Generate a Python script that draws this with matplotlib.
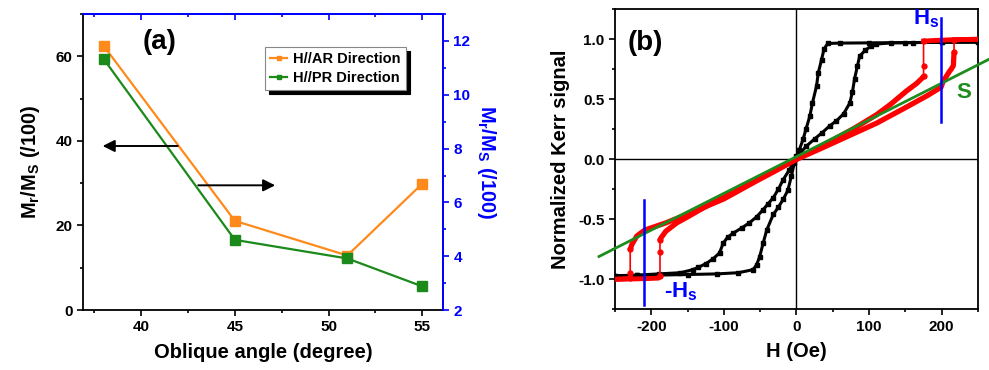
import numpy as np
import matplotlib
matplotlib.use("Agg")
import matplotlib.pyplot as plt
from matplotlib.ticker import MultipleLocator, FormatStrFormatter

plt.rcParams['font.family'] = ['Liberation Sans', 'DejaVu Sans']
plt.rcParams['font.weight'] = 'bold'
plt.rcParams['mathtext.fontset'] = 'custom'
plt.rcParams['mathtext.rm'] = 'Liberation Sans:bold'
plt.rcParams['mathtext.bf'] = 'Liberation Sans:bold'
plt.rcParams['mathtext.it'] = 'Liberation Sans:bold'
plt.rcParams['mathtext.default'] = 'bf'
plt.rcParams['axes.unicode_minus'] = False

# ---------------- data: panel (a) ----------------
angles = [38, 45, 51, 55]
ar_ratio = [62.5, 21.1, 12.9, 29.9]
pr_ratio = [59.4, 16.6, 12.2, 5.6]
ar_label = "H//AR Direction"
pr_label = "H//PR Direction"

# ---------------- data: panel (b) ----------------
# black loop, branch 1 (steep)
blk1_H = [250, 200, 150, 100, 60, 43, 38, 34.5, 30, 27.6, 22, 18.4, 13, 9, 4, 0, -3, -7, -12, -18,
          -25, -32, -41, -46, -50.6, -55, -60, -80, -110, -150, -190, -220, -250]
blk1_M = [0.975, 0.975, 0.972, 0.97, 0.968, 0.965, 0.92, 0.83, 0.72, 0.61, 0.47, 0.36, 0.25, 0.165, 0.08, 0.03,
          -0.03, -0.14, -0.26, -0.33, -0.40, -0.46, -0.59, -0.70, -0.81, -0.88, -0.92, -0.945, -0.955, -0.96,
          -0.965, -0.968, -0.97]
# black loop, branch 2 (with shoulders)
blk2_H = [-250, -220, -190, -160, -143, -135, -125, -115, -106, -101, -95, -87, -75, -65, -55, -46, -39,
          -32, -25, -18.4, -10, -2, 5, 13.6, 25, 35, 46, 55, 65, 73.5, 77, 80, 84, 87, 95, 102, 110, 130,
          160, 200, 250]
blk2_M = [-0.97, -0.965, -0.955, -0.945, -0.92, -0.90, -0.87, -0.83, -0.78, -0.70, -0.65, -0.615, -0.57,
          -0.53, -0.48, -0.42, -0.37, -0.32, -0.25, -0.17, -0.09, 0.0, 0.05, 0.11, 0.17, 0.22, 0.28, 0.32,
          0.38, 0.47, 0.56, 0.67, 0.78, 0.86, 0.91, 0.94, 0.96, 0.97, 0.972, 0.975, 0.978]
# red loop, branch A
redA_H = [250, 230, 210, 190, 176, 175, 175, 175, 172, 165, 151.7, 130, 110, 80, 50, 20, 0, -20, -55, -90,
          -124, -150, -165, -180, -186, -188, -188, -188, -190, -210, -250]
redA_M = [1.0, 0.998, 0.995, 0.99, 0.985, 0.985, 0.78, 0.69, 0.67, 0.63, 0.57, 0.46, 0.37, 0.26, 0.16, 0.06,
          0.0, -0.06, -0.17, -0.28, -0.39, -0.48, -0.53, -0.60, -0.65, -0.67, -0.77, -0.97, -0.99, -0.995, -1.0]
# red loop, branch B
redB_H = [250, 230, 218, 217, 217, 216, 213, 211, 202, 199, 180, 150, 110, 70, 30, 0, -30, -55, -100, -147,
          -180, -209, -220, -226.7, -229, -229, -229, -235, -250]
redB_M = [1.0, 0.998, 0.995, 0.995, 0.89, 0.78, 0.75, 0.735, 0.65, 0.60, 0.53, 0.43, 0.30, 0.19, 0.08, 0.0,
          -0.10, -0.18, -0.33, -0.45, -0.53, -0.59, -0.64, -0.71, -0.75, -0.95, -0.99, -0.995, -1.0]
# linear fit "S"
s_H = [-272, 265]
s_M = [-0.81, 0.833]
# saturation field markers
hs_pos = 199
hs_neg = -210.5

fig = plt.figure(figsize=(9.89, 3.70), dpi=100)

# ================= panel (a) =================
ax = fig.add_axes([0.0839, 0.162, 0.364, 0.800])
orange = '#FF8A1C'
green = '#1B8A1B'
ax.plot(angles, ar_ratio, '-s', color=orange, lw=1.6, ms=7, label=ar_label, zorder=3)
ax.plot(angles, pr_ratio, '-s', color=green, lw=1.6, ms=7, label=pr_label, zorder=3)
ax.set_xlim(36.9, 56.1)
ax.set_ylim(0, 70)
ax.xaxis.set_major_locator(MultipleLocator(5))
ax.xaxis.set_minor_locator(MultipleLocator(2.5))
ax.yaxis.set_major_locator(MultipleLocator(20))
ax.yaxis.set_minor_locator(MultipleLocator(10))
ax.tick_params(which='both', direction='out', labelsize=11, width=1.2)
ax.tick_params(which='major', length=4)
ax.tick_params(which='minor', length=2.5)
for lab in ax.get_xticklabels() + ax.get_yticklabels():
    lab.set_fontweight('bold')
ax.spines['top'].set_color('blue')
ax.spines['right'].set_color('blue')
for s in ax.spines.values():
    s.set_linewidth(1.3)
ax.set_xlabel('Oblique angle (degree)', fontsize=14.5, fontweight='bold', labelpad=6)
ax.set_ylabel('M$_r$/M$_S$ (/100)', fontsize=14.5, fontweight='bold', labelpad=10)

sec = ax.secondary_xaxis('top')
sec.xaxis.set_major_locator(MultipleLocator(5))
sec.xaxis.set_minor_locator(MultipleLocator(2.5))
sec.tick_params(which='both', direction='in', labeltop=False, color='blue', width=1.2)
sec.tick_params(which='major', length=4)
sec.tick_params(which='minor', length=2.5)
sec.spines['top'].set_color('blue')
sec.spines['top'].set_linewidth(1.3)

ax2 = ax.twinx()
ax2.set_ylim(2, 13)
ax2.yaxis.set_major_locator(MultipleLocator(2))
ax2.yaxis.set_minor_locator(MultipleLocator(1))
ax2.tick_params(which='both', direction='out', colors='blue', labelsize=11, width=1.2)
ax2.tick_params(which='major', length=4)
ax2.tick_params(which='minor', length=2.5)
for lab in ax2.get_yticklabels():
    lab.set_fontweight('bold')
ax2.spines['right'].set_color('blue')
ax2.spines['right'].set_linewidth(1.3)
ax2.spines['top'].set_visible(False)
ax2.spines['left'].set_visible(False)
ax2.spines['bottom'].set_visible(False)
ax2.set_ylabel('M$_r$/M$_S$ (/100)', fontsize=14.5, fontweight='bold', color='blue',
               rotation=270, labelpad=20)

ax.text(41.0, 63.5, '(a)', fontsize=20, fontweight='bold', ha='center', va='center')
ax.annotate('', xy=(37.8, 38.8), xytext=(42.1, 38.8),
            arrowprops=dict(arrowstyle='-|>', color='black', lw=1.4, mutation_scale=18))
ax.annotate('', xy=(47.3, 29.5), xytext=(42.9, 29.5),
            arrowprops=dict(arrowstyle='-|>', color='black', lw=1.4, mutation_scale=18))

leg = ax.legend(loc='upper left', bbox_to_anchor=(0.505, 0.89), fontsize=10.5, frameon=True,
                fancybox=False, shadow={'color': 'black', 'ox': 3, 'oy': -3, 'alpha': 1},
                handlelength=1.2, handletextpad=0.4, markerscale=0.5, borderpad=0.35,
                labelspacing=0.35, borderaxespad=0)
leg.get_frame().set_edgecolor('#888888')
leg.get_frame().set_linewidth(0.8)
for t in leg.get_texts():
    t.set_fontweight('bold')

# ================= panel (b) =================
bx = fig.add_axes([0.6218, 0.164, 0.3671, 0.811])
bx.set_xlim(-250, 250)
bx.set_ylim(-1.25, 1.25)
bx.axhline(0, color='black', lw=1.0, zorder=1)
bx.axvline(0, color='black', lw=1.0, zorder=1)

bx.plot(blk1_H, blk1_M, '-s', color='black', lw=2.2, ms=2.5, zorder=3)
bx.plot(blk2_H, blk2_M, '-s', color='black', lw=2.2, ms=2.5, zorder=3)

for H, M in ((redA_H, redA_M), (redB_H, redB_M)):
    H = np.asarray(H, dtype=float); M = np.asarray(M, dtype=float)
    same = np.where(np.diff(H) == 0)[0]
    runs = np.split(same, np.where(np.diff(same) != 1)[0] + 1)
    # thin line with dots along the vertical jumps
    bx.plot(H, M, '-', color='red', lw=1.2, zorder=4)
    for r in runs:
        idx = np.arange(r[0], r[-1] + 2)
        bx.plot(H[idx], M[idx], 'o', color='red', ms=3.5, zorder=4)
    first_start, first_end = runs[0][0], runs[0][-1] + 1
    last_start, last_end = runs[-1][0], runs[-1][-1] + 1
    bx.plot(H[:first_start + 1], M[:first_start + 1], '-', color='red', lw=3.5, zorder=4)
    bx.plot(H[first_end:last_start + 1], M[first_end:last_start + 1], '-', color='red', lw=3.8,
            zorder=4, solid_capstyle='round')
    bx.plot(H[last_end:], M[last_end:], '-', color='red', lw=3.5, zorder=4)

bx.plot(s_H, s_M, '-', color='#1E8C1E', lw=2.0, zorder=5, clip_on=False)
bx.plot([hs_pos, hs_pos], [0.307, 1.18], '-', color='blue', lw=1.8, zorder=6)
bx.plot([hs_neg, hs_neg], [-1.214, -0.337], '-', color='blue', lw=1.8, zorder=6)

bx.text(161, 1.17, 'H$_s$', color='blue', fontsize=16, fontweight='bold', ha='left', va='center')
bx.text(-182, -1.10, '-H$_s$', color='blue', fontsize=16, fontweight='bold', ha='left', va='center')
bx.text(230, 0.555, 'S', color='#1E8C1E', fontsize=16, fontweight='bold', ha='center', va='center')
bx.text(-208, 0.97, '(b)', fontsize=20, fontweight='bold', ha='center', va='center')

bx.xaxis.set_major_locator(MultipleLocator(100))
bx.xaxis.set_minor_locator(MultipleLocator(50))
bx.yaxis.set_major_locator(MultipleLocator(0.5))
bx.yaxis.set_minor_locator(MultipleLocator(0.25))
bx.yaxis.set_major_formatter(FormatStrFormatter('%.1f'))
bx.tick_params(which='both', direction='out', labelsize=11, width=1.2)
bx.tick_params(which='major', length=4)
bx.tick_params(which='minor', length=2.5)
for lab in bx.get_xticklabels() + bx.get_yticklabels():
    lab.set_fontweight('bold')
for s in bx.spines.values():
    s.set_linewidth(1.3)
bx.set_xlabel('H (Oe)', fontsize=14.5, fontweight='bold', labelpad=6)
bx.set_ylabel('Normalized Kerr signal', fontsize=14.5, fontweight='bold', labelpad=6)

fig.savefig('out.png', dpi=100)
